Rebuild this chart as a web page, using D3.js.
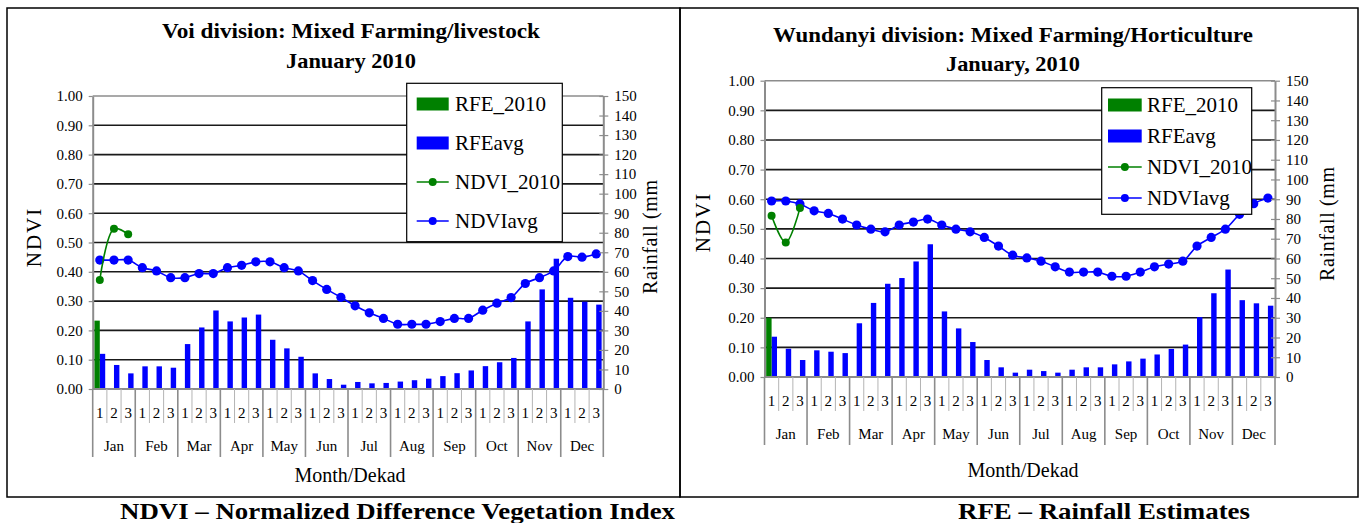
<!DOCTYPE html>
<html>
<head>
<meta charset="utf-8">
<script src="https://cdn.jsdelivr.net/npm/d3@7"></script>
<style>
body { margin: 0; background: #fff; }
text { font-family: "Liberation Serif", "Times New Roman", serif; }
</style>
</head>
<body>
<div id="chart"></div>
<script>
// categories and ticks
const months = ["Jan", "Feb", "Mar", "Apr", "May", "Jun", "Jul", "Aug", "Sep", "Oct", "Nov", "Dec"];
const dekads = ["1", "2", "3"];
const ndviTicks = [0, 0.1, 0.2, 0.3, 0.4, 0.5, 0.6, 0.7, 0.8, 0.9, 1];
const rainTicks = [0, 10, 20, 30, 40, 50, 60, 70, 80, 90, 100, 110, 120, 130, 140, 150];
const seriesNames = ["RFE_2010", "RFEavg", "NDVI_2010", "NDVIavg"];

// Voi division (only the first dekads of 2010 are available)
const voiRfe2010 = [35];
const voiRfeAvg = [18, 12.3, 8, 11.6, 11.6, 10.9, 23, 31.5, 40.2, 34.6, 36.6, 38.1,
  25.2, 20.8, 16.5, 8, 5.1, 2.2, 3.6, 2.9, 3.1, 3.8, 4.5, 5.3,
  6.6, 8.1, 9.5, 11.7, 13.7, 15.9, 34.6, 51, 66.7, 46.7, 44.7, 43.2];
const voiNdvi2010 = [0.372, 0.547, 0.528];
const voiNdviAvg = [0.44, 0.44, 0.44, 0.414, 0.403, 0.38, 0.38, 0.394, 0.394, 0.414, 0.422, 0.434,
  0.434, 0.414, 0.403, 0.37, 0.34, 0.313, 0.284, 0.26, 0.241, 0.221, 0.221, 0.221,
  0.23, 0.241, 0.241, 0.269, 0.293, 0.312, 0.36, 0.38, 0.403, 0.452, 0.45, 0.461];

// Wundanyi division
const wunRfe2010 = [30];
const wunRfeAvg = [20.4, 14.3, 8.6, 13.5, 12.8, 12.1, 27.2, 37.5, 47.2, 50.1, 58.5, 67.2,
  33.2, 24.6, 17.7, 8.6, 4.9, 2.2, 3.7, 3, 2.2, 3.7, 4.9, 4.9,
  6.4, 7.9, 9.3, 11.4, 14.2, 16.4, 30.3, 42.4, 54.4, 38.9, 37.3, 36.1];
const wunNdvi2010 = [0.544, 0.454, 0.57];
const wunNdviAvg = [0.594, 0.594, 0.584, 0.561, 0.552, 0.533, 0.513, 0.499, 0.49, 0.513, 0.523, 0.533,
  0.513, 0.499, 0.49, 0.471, 0.442, 0.411, 0.402, 0.391, 0.372, 0.354, 0.354, 0.354,
  0.34, 0.34, 0.354, 0.372, 0.381, 0.391, 0.442, 0.471, 0.499, 0.549, 0.585, 0.604];

const green = "#008000", blue = "#0000ff", axisGrey = "#8c8c8c";

const svg = d3.select("#chart").append("svg")
    .attr("width", 1365)
    .attr("height", 523);
svg.append("rect").attr("width", 1365).attr("height", 523).attr("fill", "#fff");

function drawChart(c) {
    const g = svg.append("g");
    const slots = months.flatMap(m => dekads.map(d => m + d));
    const x = d3.scaleBand().domain(slots).range([c.x0, c.x1]);
    const xm = d3.scaleBand().domain(months).range([c.x0, c.x1]);
    const xs = d3.scaleBand().domain(["RFE_2010", "RFEavg"])
        .range([0, x.bandwidth()]).paddingOuter(0.31);
    const yN = d3.scaleLinear().domain([0, 1]).range([c.y1, c.y0]);
    const yR = d3.scaleLinear().domain([0, 150]).range([c.y1, c.y0]);

    // outer frame
    g.append("rect")
        .attr("x", c.fx).attr("y", 8).attr("width", c.fw).attr("height", 489)
        .attr("fill", "none").attr("stroke", "#000").attr("stroke-width", 1.5);

    // titles
    c.title.forEach((t, i) => {
        g.append("text")
            .attr("x", c.cx).attr("y", c.titleY[i])
            .attr("text-anchor", "middle")
            .attr("font-size", 21).attr("font-weight", "bold")
            .attr("textLength", c.titleW[i]).attr("lengthAdjust", "spacingAndGlyphs")
            .text(t);
    });

    // horizontal gridlines
    g.append("g").selectAll("line")
        .data(ndviTicks.filter(t => t > 0))
        .join("line")
        .attr("x1", c.x0).attr("x2", c.x1)
        .attr("y1", d => yN(d)).attr("y2", d => yN(d))
        .attr("stroke", d => d === 1 ? axisGrey : "#1a1a1a")
        .attr("stroke-width", 1.6);

    // bars
    g.append("g").selectAll("rect")
        .data(c.rfeAvg)
        .join("rect")
        .attr("x", (d, i) => x(slots[i]) + xs("RFEavg"))
        .attr("width", xs.bandwidth())
        .attr("y", d => yR(d))
        .attr("height", d => yR(0) - yR(d))
        .attr("fill", blue);
    g.append("g").selectAll("rect")
        .data(c.rfe2010)
        .join("rect")
        .attr("x", (d, i) => x(slots[i]) + xs("RFE_2010"))
        .attr("width", xs.bandwidth())
        .attr("y", d => yR(d))
        .attr("height", d => yR(0) - yR(d))
        .attr("fill", green);

    // NDVI lines
    const line = d3.line()
        .x((d, i) => x(slots[i]) + x.bandwidth() / 2)
        .y(d => yN(d))
        .curve(d3.curveCatmullRom.alpha(0.5));
    [[c.ndviAvg, blue, 4.6], [c.ndvi2010, green, 4]].forEach(([vals, col, r]) => {
        g.append("path").datum(vals)
            .attr("d", line).attr("fill", "none")
            .attr("stroke", col).attr("stroke-width", 1.6);
        g.append("g").selectAll("circle")
            .data(vals)
            .join("circle")
            .attr("cx", (d, i) => x(slots[i]) + x.bandwidth() / 2)
            .attr("cy", d => yN(d))
            .attr("r", r)
            .attr("fill", col);
    });

    // left axis
    const ax = g.append("g")
        .attr("transform", `translate(${c.x0},0)`)
        .call(d3.axisLeft(yN).tickValues(ndviTicks).tickFormat(d3.format(".2f")).tickSize(4).tickPadding(6).tickSizeOuter(0));
    // right axis
    const ar = g.append("g")
        .attr("transform", `translate(${c.x1},0)`)
        .call(d3.axisRight(yR).tickValues(rainTicks).tickSize(5).tickPadding(6).tickSizeOuter(0));
    ar.selectAll(".tick line").attr("x1", -4);
    [ax, ar].forEach(a => {
        a.select(".domain").attr("stroke", axisGrey).attr("stroke-width", 2);
        a.selectAll(".tick line").attr("stroke", axisGrey).attr("stroke-width", 1.2);
        a.selectAll(".tick text").attr("font-size", 15).attr("font-family", "Liberation Serif").attr("fill", "#000");
    });

    // bottom axis: dekads and months
    g.append("line")
        .attr("x1", c.x0).attr("x2", c.x1).attr("y1", c.y1).attr("y2", c.y1)
        .attr("stroke", axisGrey).attr("stroke-width", 2);
    const bd = g.append("g")
        .attr("transform", `translate(0,${c.y1})`)
        .call(d3.axisBottom(x).tickFormat((d, i) => dekads[i % 3]).tickSize(0).tickPadding(18));
    const bm = g.append("g")
        .attr("transform", `translate(0,${c.y1})`)
        .call(d3.axisBottom(xm).tickSize(0).tickPadding(51));
    [bd, bm].forEach(a => {
        a.select(".domain").remove();
        a.selectAll(".tick text").attr("font-size", 15).attr("font-family", "Liberation Serif").attr("fill", "#000");
    });
    const bounds = d3.range(slots.length + 1);
    g.append("g").selectAll("line")
        .data(bounds)
        .join("line")
        .attr("x1", i => i < slots.length ? x(slots[i]) : c.x1)
        .attr("x2", i => i < slots.length ? x(slots[i]) : c.x1)
        .attr("y1", c.y1)
        .attr("y2", i => c.y1 + (i % 3 === 0 ? 68 : 34))
        .attr("stroke", i => i % 3 === 0 ? axisGrey : "#b4b4b4")
        .attr("stroke-width", i => i % 3 === 0 ? 1.6 : 1);

    // axis titles
    g.append("text")
        .attr("x", c.cxPlot).attr("y", c.xTitleY)
        .attr("text-anchor", "middle").attr("font-size", 20)
        .text("Month/Dekad");
    g.append("text")
        .attr("transform", `translate(${c.ndviX},${c.ndviY}) rotate(-90)`)
        .attr("text-anchor", "middle").attr("font-size", 21)
        .attr("letter-spacing", 2)
        .text("NDVI");
    g.append("text")
        .attr("transform", `translate(${c.rainX},${c.rainY}) rotate(-90)`)
        .attr("text-anchor", "middle").attr("font-size", 20)
        .attr("textLength", 114).attr("lengthAdjust", "spacing")
        .text("Rainfall (mm");

    // legend
    const lg = g.append("g").attr("transform", `translate(${c.lx},${c.ly})`);
    lg.append("rect")
        .attr("width", c.lw).attr("height", c.lh)
        .attr("fill", "#fff").attr("stroke", "#000").attr("stroke-width", 1.2);
    const colors = [green, blue, green, blue];
    seriesNames.forEach((name, i) => {
        const yy = c.lfirst + i * c.lstep;
        if (i < 2) {
            lg.append("rect")
                .attr("x", c.sx).attr("y", yy - 6.5).attr("width", c.sw).attr("height", 13)
                .attr("fill", colors[i]);
        } else {
            lg.append("line")
                .attr("x1", c.sx).attr("x2", c.sx + c.sw).attr("y1", yy).attr("y2", yy)
                .attr("stroke", colors[i]).attr("stroke-width", 1.6);
            lg.append("circle")
                .attr("cx", c.sx + c.sw / 2).attr("cy", yy).attr("r", 4)
                .attr("fill", colors[i]);
        }
        lg.append("text")
            .attr("x", c.tx).attr("y", yy + 7)
            .attr("font-size", 21)
            .text(name);
    });
}

drawChart({
    fx: 7, fw: 673, cx: 351,
    title: ["Voi division: Mixed Farming/livestock", "January 2010"],
    titleY: [38, 68], titleW: [378, 130],
    x0: 92.7, x1: 603.3, y0: 96, y1: 389,
    rfe2010: voiRfe2010, rfeAvg: voiRfeAvg, ndvi2010: voiNdvi2010, ndviAvg: voiNdviAvg,
    cxPlot: 350, xTitleY: 482,
    ndviX: 41, ndviY: 237, rainX: 657, rainY: 237,
    lx: 406.7, ly: 83.3, lw: 155.6, lh: 158.4, lfirst: 20.7, lstep: 39,
    sx: 10, sw: 32, tx: 48.3
});

drawChart({
    fx: 680, fw: 678, cx: 1013,
    title: ["Wundanyi division: Mixed Farming/Horticulture", "January, 2010"],
    titleY: [41.5, 71], titleW: [480, 134],
    x0: 764.5, x1: 1275, y0: 80.7, y1: 377,
    rfe2010: wunRfe2010, rfeAvg: wunRfeAvg, ndvi2010: wunNdvi2010, ndviAvg: wunNdviAvg,
    cxPlot: 1023, xTitleY: 477,
    ndviX: 710, ndviY: 222, rainX: 1334, rainY: 224,
    lx: 1101.7, ly: 87.7, lw: 150, lh: 126.6, lfirst: 17.3, lstep: 31,
    sx: 6.3, sw: 33.7, tx: 45.3
});

// captions under the charts
[["NDVI – Normalized Difference Vegetation Index", 397.5, 555],
 ["RFE – Rainfall Estimates", 1104, 292]].forEach(([t, cx, w]) => {
    svg.append("text")
        .attr("x", cx).attr("y", 519)
        .attr("text-anchor", "middle")
        .attr("font-size", 23).attr("font-weight", "bold")
        .attr("textLength", w).attr("lengthAdjust", "spacingAndGlyphs")
        .text(t);
});
</script>
</body>
</html>
